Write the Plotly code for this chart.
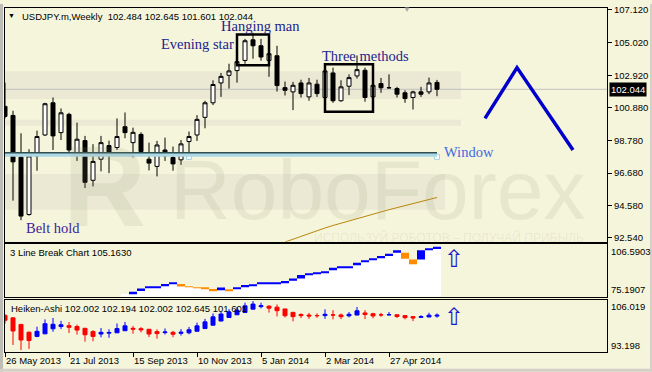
import pandas as pd
import plotly.graph_objects as go

START = pd.Timestamp("2013-05-26")


def wk(k):
    return START + pd.Timedelta(days=7 * k)


# ---------------- data (weekly USDJPY) ----------------
opens = [100.95, 100.37, 97.70, 94.03, 97.78, 99.12, 101.18, 99.27, 100.44, 98.00,
         98.76, 96.22, 97.57, 98.44, 98.32, 99.65, 98.63, 99.16, 97.57, 97.11,
         98.16, 97.68, 97.53, 98.70, 99.12, 100.25, 101.18, 102.45, 102.94, 103.24,
         103.89, 105.21, 104.83, 103.89, 104.19, 102.15, 101.88, 102.45, 101.56, 102.37,
         101.52, 103.09, 101.31, 102.24, 102.90, 103.26, 101.56, 102.41, 102.15, 102.09,
         101.82, 101.52, 101.88, 101.88, 102.484]
highs = [102.47, 100.67, 99.23, 98.21, 99.40, 101.18, 101.52, 100.82, 100.54, 99.91,
         99.06, 98.53, 99.06, 98.76, 100.18, 100.56, 99.59, 99.29, 98.63, 98.74,
         98.95, 98.38, 98.80, 99.34, 100.39, 101.31, 102.62, 103.09, 103.68, 104.19,
         105.27, 105.66, 105.27, 104.64, 104.83, 102.54, 102.52, 102.66, 102.77, 102.66,
         103.64, 103.43, 102.62, 103.00, 104.21, 103.43, 102.79, 102.77, 103.00, 102.20,
         101.98, 101.95, 102.20, 102.79, 102.645]
lows = [100.18, 94.92, 93.67, 93.96, 96.83, 99.06, 98.16, 98.80, 97.85, 97.46,
        95.73, 95.83, 96.79, 96.68, 98.16, 98.91, 97.68, 98.00, 96.85, 96.47,
        97.46, 96.83, 97.21, 97.53, 98.74, 99.55, 101.03, 101.56, 102.09, 102.47,
        103.68, 104.00, 103.87, 102.84, 101.90, 101.65, 100.71, 101.52, 101.31, 101.56,
        101.31, 101.18, 101.25, 101.67, 102.73, 101.25, 101.45, 101.82, 102.09, 101.52,
        101.18, 100.75, 101.56, 101.73, 101.601]
closes = [100.31, 97.40, 93.93, 97.78, 99.02, 101.12, 99.06, 100.54, 98.16, 98.85,
          96.09, 97.43, 98.63, 98.02, 99.02, 99.27, 99.29, 98.06, 97.32, 98.48,
          97.78, 97.27, 98.55, 99.02, 100.12, 101.18, 102.35, 102.87, 103.22, 103.81,
          105.15, 104.83, 104.11, 104.32, 102.28, 101.98, 102.30, 101.77, 102.45, 101.77,
          103.22, 101.31, 102.20, 102.79, 103.30, 101.52, 102.30, 102.14, 102.14, 101.73,
          101.45, 101.88, 101.73, 102.45, 102.044]

# slow moving average (orange line), bars 35..54
ma_start = 35
ma_vals = [92.27, 92.46, 92.65, 92.84, 93.01, 93.17, 93.33, 93.48, 93.63, 93.78,
           93.93, 94.07, 94.21, 94.34, 94.47, 94.60, 94.73, 94.86, 94.99, 95.12]

# forecast zigzag (bar offsets, prices)
zz_bars = [60, 64, 71]
zz_prices = [100.18, 103.43, 98.16]

# window gap
window_line = 97.99
window_low, window_high = 97.72, 97.96

# pattern boxes (bar from, bar to, price low, price high)
hanging_box = (29, 33, 103.58, 105.55)
three_box = (40, 46, 100.61, 103.64)

# 3 Line Break panel (bars 15..54)
lb_start = 15
lb_low = [76.79, 77.14, 78.57, 80.52, 80.52, 81.71, 82.89, 81.29, 80.82, 80.23,
          79.75, 78.57, 79.51, 78.57, 79.75, 80.94, 81.71, 82.89, 82.89, 82.89,
          83.66, 84.67, 86.03, 88.05, 88.99, 89.71, 91.01, 92.67, 92.67, 93.97,
          96.10, 97.11, 98.30, 99.48, 101.43, 97.88, 94.56, 97.52, 103.04, 103.81]
lb_high = [76.79, 78.15, 80.11, 81.12, 81.12, 82.71, 83.48, 82.71, 81.29, 80.82,
           80.23, 79.75, 80.70, 79.51, 80.70, 82.12, 82.30, 83.48, 83.48, 83.48,
           84.49, 86.03, 88.22, 88.99, 89.71, 90.30, 92.55, 93.26, 93.26, 95.51,
           96.93, 98.12, 99.48, 100.84, 103.04, 101.43, 97.52, 103.04, 103.81, 105.16]
lb_dir = [0, 1, 1, 1, 1, 1, 1, -1, -1, -1,
          -1, -1, 1, -1, 1, 1, 1, 1, 1, 1,
          1, 1, 1, 1, 1, 1, 1, 1, 1, 1,
          1, 1, 1, 1, 1, -1, -1, 1, 1, 1]
LB_MIN, LB_MAX = 75.1907, 106.5903

# Heiken-Ashi panel
ha_open_first = 102.15
HA_MIN, HA_MAX = 93.198, 106.019

# axes
main_ticks = [92.54, 94.58, 96.68, 98.78, 100.88, 102.92, 105.02, 107.12]
date_tick_bars = [0, 8, 16, 24, 32, 40, 48]
date_tick_text = ["26 May 2013", "21 Jul 2013", "15 Sep 2013", "10 Nov 2013",
                  "5 Jan 2014", "2 Mar 2014", "27 Apr 2014"]
last_price = 102.044

# ---------------- styling / layout helpers ----------------
BG = "#F5F5DC"
UI_FONT = "Liberation Sans"
SERIF = "Liberation Serif"
W, H = 652, 372
ML, MR, MT, MB = 5, 45, 4, 20
PW, PH = W - ML - MR, H - MT - MB


def PX(x):
    return (x - ML) / PW


def PY(y):
    return (H - MB - y) / PH


n = len(opens)
dates = [wk(k) for k in range(n)]

ha_o, ha_c, ha_h, ha_l = [], [], [], []
for i in range(n):
    c = (opens[i] + highs[i] + lows[i] + closes[i]) / 4
    o = ha_open_first if i == 0 else (ha_o[-1] + ha_c[-1]) / 2
    ha_o.append(o)
    ha_c.append(c)
    ha_h.append(max(highs[i], o, c))
    ha_l.append(min(lows[i], o, c))

fig = go.Figure()

# main candles
fig.add_trace(go.Candlestick(
    x=dates, open=opens, high=highs, low=lows, close=closes,
    increasing=dict(line=dict(color="black", width=1), fillcolor="white"),
    decreasing=dict(line=dict(color="black", width=1), fillcolor="black"),
    whiskerwidth=0, xaxis="x", yaxis="y", hoverinfo="skip", showlegend=False))

fig.add_trace(go.Scatter(
    x=[wk(ma_start + i) for i in range(len(ma_vals))], y=ma_vals, mode="lines",
    line=dict(color="#B8860B", width=1), xaxis="x", yaxis="y",
    hoverinfo="skip", showlegend=False))

fig.add_trace(go.Scatter(
    x=[wk(b) for b in zz_bars], y=zz_prices, mode="lines",
    line=dict(color="#0000CC", width=3.5), xaxis="x", yaxis="y",
    hoverinfo="skip", showlegend=False))

fig.add_trace(go.Scatter(
    x=[wk(23), wk(n - 1)], y=[window_low, window_low], mode="markers",
    marker=dict(symbol="square", size=5, color="white",
                line=dict(color="#9FD6E2", width=1)),
    xaxis="x", yaxis="y", hoverinfo="skip", showlegend=False))

# 3 line break
lb_dates = [wk(lb_start + i) for i in range(len(lb_low))]
WEEK_MS = 7 * 24 * 3600 * 1000
fig.add_trace(go.Bar(
    x=lb_dates, base=[LB_MIN] * len(lb_low), y=[v - LB_MIN for v in lb_low],
    width=WEEK_MS, marker=dict(color="white", line=dict(width=0)),
    xaxis="x2", yaxis="y2", hoverinfo="skip", showlegend=False))
fig.add_trace(go.Bar(
    x=lb_dates, base=lb_low, y=[h - l for h, l in zip(lb_high, lb_low)],
    width=WEEK_MS,
    marker=dict(color=["#0000FF" if d > 0 else ("#FF8C00" if d < 0 else "rgba(0,0,0,0)")
                       for d in lb_dir], line=dict(width=0)),
    xaxis="x2", yaxis="y2", hoverinfo="skip", showlegend=False))

# Heiken-Ashi
fig.add_trace(go.Candlestick(
    x=dates, open=ha_o, high=ha_h, low=ha_l, close=ha_c,
    increasing=dict(line=dict(color="#0000FF", width=1), fillcolor="#0000FF"),
    decreasing=dict(line=dict(color="#FF0000", width=1), fillcolor="#FF0000"),
    whiskerwidth=0, xaxis="x3", yaxis="y3", hoverinfo="skip", showlegend=False))

axis_common = dict(showgrid=False, zeroline=False, showline=True, mirror=True,
                   linecolor="black", linewidth=1)

shapes = []
# watermark stripes
for y0, y1, x1 in [(68, 96, 461), (117, 123, 461), (172, 208, 445)]:
    shapes.append(dict(type="rect", xref="paper", yref="paper", x0=0, x1=PX(x1),
                       y0=PY(y1), y1=PY(y0), fillcolor="#EBE9D3", line=dict(width=0),
                       layer="below"))
# bid line
shapes.append(dict(type="line", xref="paper", yref="y", x0=0, x1=1, y0=last_price,
                   y1=last_price, line=dict(color="#C0C0C0", width=1), layer="below"))
# window
shapes.append(dict(type="rect", xref="x", yref="y", x0=wk(0), x1=wk(n - 1),
                   y0=window_low, y1=window_high, fillcolor="#ADD8E6",
                   line=dict(width=0), layer="above"))
shapes.append(dict(type="line", xref="x", yref="y", x0=wk(0), x1=wk(n - 1),
                   y0=window_line, y1=window_line, line=dict(color="#2F4F4F", width=1.5),
                   layer="above"))
# pattern boxes
for b0, b1, p0, p1 in [hanging_box, three_box]:
    shapes.append(dict(type="rect", xref="x", yref="y", x0=wk(b0), x1=wk(b1),
                       y0=p0, y1=p1, line=dict(color="black", width=2.5),
                       fillcolor="rgba(0,0,0,0)", layer="above"))
# outer frame strips
shapes.append(dict(type="rect", xref="paper", yref="paper", x0=PX(0), x1=PX(3),
                   y0=PY(372), y1=PY(0), fillcolor="#BDBDB5", line=dict(width=0)))
shapes.append(dict(type="rect", xref="paper", yref="paper", x0=PX(0), x1=PX(652),
                   y0=PY(372), y1=PY(369), fillcolor="#D4D0C8", line=dict(width=0)))
shapes.append(dict(type="rect", xref="paper", yref="paper", x0=PX(650), x1=PX(652),
                   y0=PY(372), y1=PY(0), fillcolor="#D4D0C8", line=dict(width=0)))

ann = []


def txt(text, x, y, size=9.5, color="black", family=UI_FONT, xanchor="left",
        yanchor="middle", xref="paper", yref="paper", **kw):
    d = dict(text=text, x=x, y=y, xref=xref, yref=yref, xanchor=xanchor,
             yanchor=yanchor, showarrow=False,
             font=dict(size=size, color=color, family=family))
    d.update(kw)
    ann.append(d)


# watermark
WM = "rgba(150,150,120,0.14)"
txt("<b>R</b>", PX(104), PY(184), size=115, color=WM, xanchor="center")
txt("RoboForex", PX(378), PY(188), size=84, color=WM, xanchor="center")
txt("ИСПОЛЬЗУЙ РОБОТОВ – ПОЛУЧАЙ ПРИБЫЛЬ", PX(449), PY(236), size=12,
    color=WM, xanchor="center")

# header
txt("▼", PX(11.5), PY(12), size=7, xanchor="center")
txt("USDJPY.m,Weekly  102.484 102.645 101.601 102.044", PX(20), PY(12.5))
txt("▼", PX(407), PY(6), size=8, color="#A8A8A8", xanchor="center")

# pattern labels
txt("Evening star", wk(24.1), 104.96, size=14.5, color="#22228C", family=SERIF,
    xanchor="center", xref="x", yref="y")
txt("Hanging man", wk(31.9), 106.10, size=14.5, color="#22228C", family=SERIF,
    xanchor="center", xref="x", yref="y")
txt("Three methods", wk(45.0), 104.19, size=14.5, color="#22228C", family=SERIF,
    xanchor="center", xref="x", yref="y")
txt("Belt hold", wk(6.06), 93.18, size=14.5, color="#3B1C9A", family=SERIF,
    xanchor="center", xref="x", yref="y")
txt("Window", wk(58.0), 98.02, size=14.5, color="#4169E1", family=SERIF,
    xanchor="center", xref="x", yref="y")

# price tag
txt("102.044", 1 + 2 / PW, last_price, color="white", bgcolor="black",
    borderpad=1, yref="y")

# sub panel titles and scale labels
txt("3 Line Break Chart 105.1630", PX(8), PY(251))
txt("Heiken-Ashi 102.002 102.194 102.002 102.645 101.601", PX(9), PY(308))
txt(f"{LB_MAX:.4f}", 1 + 2 / PW, PY(250))
txt(f"{LB_MIN:.4f}", 1 + 2 / PW, PY(288.5))
txt(f"{HA_MAX:.3f}", 1 + 2 / PW, PY(305.5))
txt(f"{HA_MIN:.3f}", 1 + 2 / PW, PY(345.5))

# up arrows
txt("⇧", PX(453.5), PY(258), size=24, color="#1A1ACC", family="DejaVu Sans",
    xanchor="center")
txt("⇧", PX(453.5), PY(317), size=24, color="#1A1ACC", family="DejaVu Sans",
    xanchor="center")

fig.update_layout(
    width=W, height=H, margin=dict(l=ML, r=MR, t=MT, b=MB),
    paper_bgcolor=BG, plot_bgcolor=BG, showlegend=False,
    barmode="overlay", boxgap=0.5, boxgroupgap=0,
    font=dict(family=UI_FONT, size=9.5, color="black"),
    xaxis=dict(domain=[0, 1], anchor="y", range=[wk(0), wk(75.25)],
               showticklabels=False, ticks="", rangeslider=dict(visible=False),
               **axis_common),
    xaxis2=dict(domain=[0, 1], anchor="y2", matches="x", showticklabels=False,
                ticks="", rangeslider=dict(visible=False), **axis_common),
    xaxis3=dict(domain=[0, 1], anchor="y3", matches="x",
                tickvals=[wk(b) for b in date_tick_bars], ticktext=date_tick_text,
                ticks="outside", ticklen=4, tickcolor="black",
                ticklabelposition="outside right",
                tickfont=dict(size=9.5, family=UI_FONT, color="black"),
                rangeslider=dict(visible=False), **axis_common),
    yaxis=dict(domain=[PY(240.5), 1], anchor="x", side="right",
               range=[92.286, 107.246], tickvals=main_ticks,
               ticktext=[f"{v:.3f}" for v in main_ticks], ticks="outside",
               ticklen=4, tickcolor="black",
               tickfont=dict(size=9.5, family=UI_FONT, color="black"),
               **axis_common),
    yaxis2=dict(domain=[PY(296), PY(243)], anchor="x2", side="right",
                range=[LB_MIN, LB_MAX], showticklabels=False, ticks="",
                **axis_common),
    yaxis3=dict(domain=[0, PY(299)], anchor="x3", side="right",
                range=[HA_MIN, HA_MAX], showticklabels=False, ticks="",
                **axis_common),
    shapes=shapes, annotations=ann,
)

fig.write_html(
    "out.html",
    config={"displayModeBar": False},
    post_script="document.body.style.margin='0';document.body.style.overflow='hidden';",
)
